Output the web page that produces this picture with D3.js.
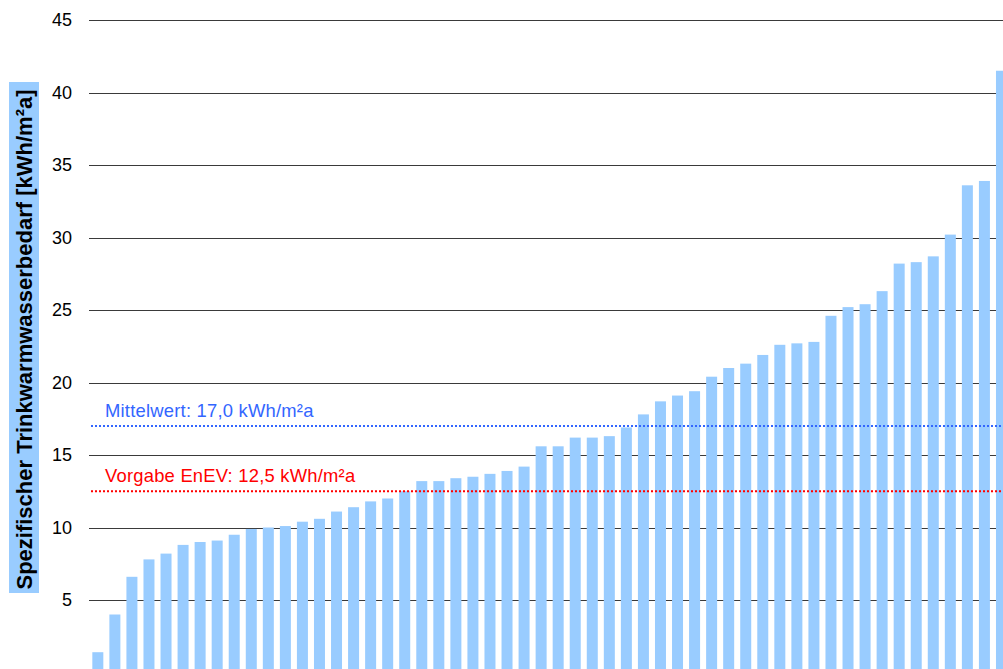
<!DOCTYPE html>
<html>
<head>
<meta charset="utf-8">
<script src="https://cdn.jsdelivr.net/npm/d3@7"></script>
<style>
  html, body { margin: 0; padding: 0; background: #fff; overflow: hidden; }
  svg { display: block; font-family: "Liberation Sans", Arial, sans-serif; }
</style>
</head>
<body>
<script>
// Data (sorted specific domestic hot water demand per building, kWh/m²a)
const categories = d3.range(1, 55).map(String);
const values = [
  1.4, 4.0, 6.6, 7.8, 8.2, 8.8, 9.0, 9.1, 9.5, 9.9,
  10.0, 10.1, 10.4, 10.6, 11.1, 11.4, 11.8, 12.0, 12.5, 13.2,
  13.2, 13.4, 13.5, 13.7, 13.9, 14.2, 15.6, 15.6, 16.2, 16.2,
  16.3, 16.9, 17.8, 18.7, 19.1, 19.4, 20.4, 21.0, 21.3, 21.9,
  22.6, 22.7, 22.8, 24.6, 25.2, 25.4, 26.3, 28.2, 28.3, 28.7,
  30.2, 33.6, 33.9, 41.5
];
const tickValues = [5, 10, 15, 20, 25, 30, 35, 40, 45];
const refValues = [17.0, 12.5];
const refLabels = ["Mittelwert: 17,0 kWh/m²a", "Vorgabe EnEV: 12,5 kWh/m²a"];
const refColors = ["#3366FF", "#FF0000"];
const yTitle = "Spezifischer Trinkwarmwasserbedarf [kWh/m²a]";

const W = 1003, H = 669;
const svg = d3.select("body").append("svg").attr("width", W).attr("height", H);

const x = d3.scaleBand().domain(categories).range([89.3, 1010]).paddingInner(0.355).paddingOuter(0.1775);
const y = d3.scaleLinear().domain([0, 45]).range([672.5, 20]);

// gridlines
svg.append("g").selectAll("line").data(tickValues).join("line")
  .attr("x1", 89).attr("x2", W)
  .attr("y1", d => Math.round(y(d)) + 0.5).attr("y2", d => Math.round(y(d)) + 0.5)
  .attr("stroke", "#3a3a3a").attr("stroke-width", 1);

// y axis labels
const yAxis = d3.axisLeft(y).tickValues(tickValues).tickSize(0).tickPadding(0).tickFormat(d3.format("d"));
const ag = svg.append("g").attr("transform", "translate(72,0)").call(yAxis);
ag.select(".domain").remove();
ag.selectAll("text").attr("font-size", 18).attr("fill", "#000")
  .attr("font-family", "'Liberation Sans', Arial, sans-serif");

// bars
svg.append("g").selectAll("rect").data(values).join("rect")
  .attr("x", (d, i) => x(categories[i]))
  .attr("width", x.bandwidth())
  .attr("y", d => y(d))
  .attr("height", d => y(0) - y(d))
  .attr("fill", "#99CCFF");

// reference lines
refValues.forEach((v, i) => {
  svg.append("line")
    .attr("x1", 91).attr("x2", W)
    .attr("y1", y(v)).attr("y2", y(v))
    .attr("stroke", refColors[i]).attr("stroke-width", 2.2)
    .attr("stroke-dasharray", "2 2");
  svg.append("text")
    .attr("x", 105).attr("y", y(v) - 9.5)
    .attr("fill", refColors[i])
    .attr("font-size", 18.4)
    .attr("letter-spacing", 0.22)
    .text(refLabels[i]);
});

// y title with box
svg.append("rect").attr("x", 9).attr("y", 82).attr("width", 30).attr("height", 511).attr("fill", "#99CCFF");
svg.append("text")
  .attr("transform", "translate(32,339.5) rotate(-90)")
  .attr("text-anchor", "middle")
  .attr("font-weight", "bold")
  .attr("font-size", 22)
  .attr("fill", "#000")
  .text(yTitle);
</script>
</body>
</html>
